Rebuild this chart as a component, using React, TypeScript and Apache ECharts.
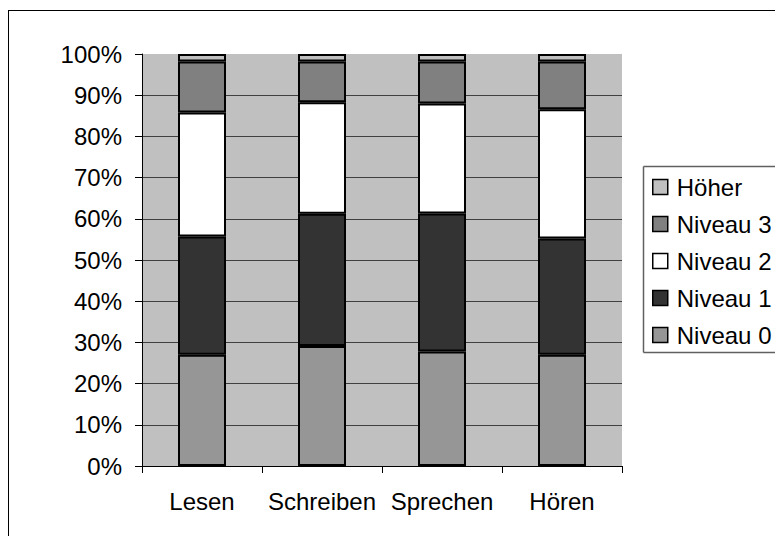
import React, { useEffect, useRef } from "react";
import * as echarts from "echarts";

const categories = ["Lesen", "Schreiben", "Sprechen", "Hören"];
const niveau0 = [27.0, 29.1, 27.8, 27.0];
const niveau1 = [28.7, 32.1, 33.5, 28.2];
const niveau2 = [30.1, 27.1, 26.7, 31.4];
const niveau3 = [12.4, 9.9, 10.2, 11.6];
const hoeher = [1.8, 1.8, 1.8, 1.8];
const seriesNames = ["Niveau 0", "Niveau 1", "Niveau 2", "Niveau 3", "Höher"];
const seriesColors = ["#969696", "#333333", "#ffffff", "#808080", "#c0c0c0"];
const legendOrder = ["Höher", "Niveau 3", "Niveau 2", "Niveau 1", "Niveau 0"];

const FONT = "'Liberation Sans', Arial, sans-serif";

export default function App() {
  const ref = useRef<HTMLDivElement>(null);
  useEffect(() => {
    document.body.style.margin = "0";
    document.documentElement.style.overflow = "hidden";
    document.body.style.overflow = "hidden";
    if (!ref.current) return;
    const chart = echarts.init(ref.current, undefined, { renderer: "svg" });
    const values = [niveau0, niveau1, niveau2, niveau3, hoeher];
    chart.setOption({
      animation: false,
      backgroundColor: "#ffffff",
      textStyle: { fontFamily: FONT },
      grid: {
        left: 142,
        right: 153,
        top: 54,
        bottom: 70,
        show: true,
        backgroundColor: "#c0c0c0",
        borderWidth: 0,
      },
      xAxis: {
        type: "category",
        data: categories,
        axisLine: { show: true, lineStyle: { color: "#000", width: 1 } },
        axisTick: { show: true, length: 7, alignWithLabel: false, lineStyle: { color: "#000" } },
        axisLabel: { color: "#000", fontSize: 24, fontFamily: FONT, margin: 23, interval: 0 },
        splitLine: { show: false },
      },
      yAxis: {
        type: "value",
        min: 0,
        max: 100,
        interval: 10,
        axisLine: { show: true, lineStyle: { color: "#000", width: 1 } },
        axisTick: { show: true, length: 7, lineStyle: { color: "#000" } },
        axisLabel: { color: "#000", fontSize: 24, fontFamily: FONT, margin: 20, formatter: "{value}%" },
        splitLine: { show: true, showMinLine: false, showMaxLine: false, lineStyle: { color: "#404040", width: 1 } },
      },
      legend: {
        orient: "vertical",
        left: 652,
        top: 175,
        padding: 0,
        itemWidth: 15,
        itemHeight: 15,
        itemGap: 13,
        icon: "rect",
        selectedMode: false,
        data: legendOrder,
        itemStyle: { borderColor: "#000", borderWidth: 1.5 },
        textStyle: { color: "#000", fontSize: 24, fontFamily: FONT, padding: [0, 0, 0, 4] },
      },
      graphic: [
        {
          type: "line",
          shape: { x1: 8.5, y1: 10.5, x2: 775, y2: 10.5 },
          style: { stroke: "#000", lineWidth: 1 },
          silent: true,
          z: -10,
        },
        {
          type: "line",
          shape: { x1: 8.5, y1: 10, x2: 8.5, y2: 536 },
          style: { stroke: "#000", lineWidth: 1 },
          silent: true,
          z: -10,
        },
        {
          type: "line",
          shape: { x1: 643.5, y1: 166.5, x2: 775, y2: 166.5 },
          style: { stroke: "#606060", lineWidth: 1.5 },
          silent: true,
          z: -5,
        },
        {
          type: "line",
          shape: { x1: 643.5, y1: 166.5, x2: 643.5, y2: 352.5 },
          style: { stroke: "#606060", lineWidth: 1.5 },
          silent: true,
          z: -5,
        },
        {
          type: "line",
          shape: { x1: 643.5, y1: 352.5, x2: 775, y2: 352.5 },
          style: { stroke: "#606060", lineWidth: 1.5 },
          silent: true,
          z: -5,
        },
      ],
      series: seriesNames.map((name, i) => ({
        name,
        type: "bar",
        stack: "total",
        barWidth: 48,
        data: values[i],
        itemStyle: { color: seriesColors[i], borderColor: "#000", borderWidth: 2 },
      })),
    });
    return () => chart.dispose();
  }, []);
  return <div ref={ref} style={{ width: 775, height: 536 }} />;
}
